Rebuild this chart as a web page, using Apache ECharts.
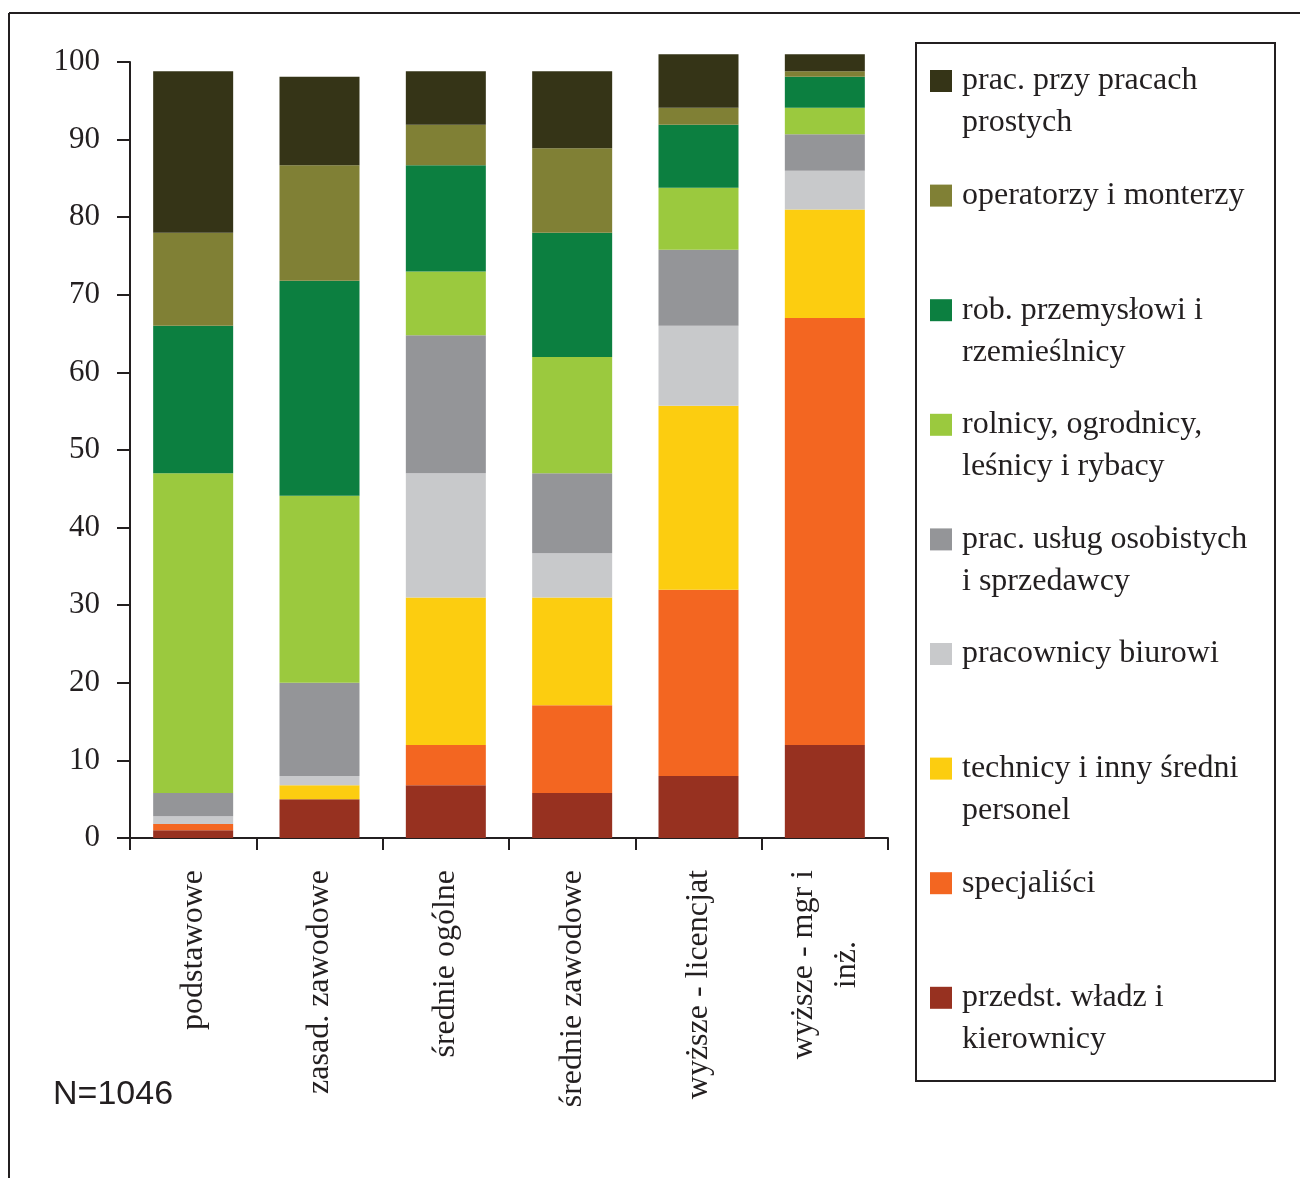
<!DOCTYPE html>
<html>
<head>
<meta charset="utf-8">
<script src="https://cdn.jsdelivr.net/npm/echarts@6/dist/echarts.min.js"></script>
<style>
  html, body { margin: 0; padding: 0; background: #ffffff; }
  #chart { width: 1300px; height: 1178px; }
</style>
</head>
<body>
<div id="chart"></div>
<script>
// Education levels (x axis); a "\n" marks a wrapped label
const educationLevels = [
  'podstawowe',
  'zasad. zawodowe',
  'średnie ogólne',
  'średnie zawodowe',
  'wyższe - licencjat',
  'wyższe - mgr i\ninż.'
];

// Y axis ticks
const yTicks = [0, 10, 20, 30, 40, 50, 60, 70, 80, 90, 100];

// Occupation groups, from the bottom of each stack upwards (legend lines)
const occupationLabels = [
  ['przedst. władz i', 'kierownicy'],
  ['specjaliści'],
  ['technicy i inny średni', 'personel'],
  ['pracownicy biurowi'],
  ['prac. usług osobistych', 'i sprzedawcy'],
  ['rolnicy, ogrodnicy,', 'leśnicy i rybacy'],
  ['rob. przemysłowi i', 'rzemieślnicy'],
  ['operatorzy i monterzy'],
  ['prac. przy pracach', 'prostych']
];

// Shares (%) per education level, one array per occupation group
const kierownicy   = [1.0, 5.0, 6.8, 5.8, 8.0, 12.0];
const specjalisci  = [0.8, 0.0, 5.2, 11.3, 24.0, 55.0];
const technicy     = [0.0, 1.8, 19.0, 13.9, 23.7, 14.0];
const biurowi      = [1.0, 1.2, 16.0, 5.7, 10.3, 5.0];
const uslugi       = [3.0, 12.0, 17.8, 10.3, 9.8, 4.7];
const rolnicy      = [41.2, 24.1, 8.2, 15.0, 8.0, 3.4];
const robotnicy    = [19.0, 27.7, 13.7, 16.0, 8.1, 4.0];
const operatorzy   = [12.0, 14.9, 5.2, 10.9, 2.2, 0.7];
const proste       = [20.8, 11.4, 6.9, 9.9, 6.9, 2.2];

const sampleNote = 'N=1046';

const seriesValues = [kierownicy, specjalisci, technicy, biurowi, uslugi, rolnicy, robotnicy, operatorzy, proste];
const seriesColors = ['#973120', '#f36621', '#fccd10', '#c8c9cb', '#949598', '#9bc93e', '#0c7f40', '#808035', '#353417'];

const INK = '#231f20';
const SERIF = '"Liberation Serif", "Times New Roman", serif';

const seriesNames = occupationLabels.map(l => l.join(' '));
const labelByName = {};
occupationLabels.forEach((l, i) => { labelByName[seriesNames[i]] = l; });

const chart = echarts.init(document.getElementById('chart'), null, { renderer: 'canvas' });

const option = {
  backgroundColor: '#ffffff',
  animation: false,
  grid: { left: 130, right: 412, top: 62, bottom: 340, containLabel: false },
  xAxis: {
    type: 'category',
    data: educationLevels,
    boundaryGap: true,
    axisLine: { show: true, lineStyle: { color: INK, width: 2 } },
    axisTick: { show: true, alignWithLabel: false, length: 12, lineStyle: { color: INK, width: 2 } },
    axisLabel: {
      interval: 0,
      rotate: 90,
      margin: 32,
      formatter: function (v) {
        const parts = v.split('\n');
        return parts.map((p, i) => (i === 0 ? '{a|' + p + '}' : '{b|' + p + '}')).join('\n');
      },
      rich: {
        a: { fontFamily: SERIF, fontSize: 32, lineHeight: 43, color: INK },
        b: { fontFamily: SERIF, fontSize: 32, lineHeight: 43, color: INK, align: 'center' }
      }
    },
    splitLine: { show: false }
  },
  yAxis: {
    type: 'value',
    min: yTicks[0],
    max: yTicks[yTicks.length - 1],
    interval: yTicks[1] - yTicks[0],
    axisLine: { show: true, lineStyle: { color: INK, width: 2 } },
    axisTick: { show: true, inside: false, length: 13, lineStyle: { color: INK, width: 2 } },
    axisLabel: { margin: 30, fontFamily: SERIF, fontSize: 31, color: INK },
    splitLine: { show: false }
  },
  legend: {
    orient: 'vertical',
    left: 930,
    top: 18,
    padding: 0,
    itemGap: -11.4,
    itemWidth: 22,
    itemHeight: 22,
    icon: 'rect',
    selectedMode: false,
    data: seriesNames.slice().reverse(),
    formatter: function (name) {
      const l = labelByName[name];
      return '\n' + l[0] + '\n' + (l[1] || '');
    },
    textStyle: { fontFamily: SERIF, fontSize: 32, lineHeight: 42, color: INK, padding: [0, 0, 0, 5] }
  },
  series: seriesNames.map((name, i) => ({
    name: name,
    type: 'bar',
    stack: 'total',
    barWidth: 80,
    clip: false,
    itemStyle: { color: seriesColors[i] },
    emphasis: { disabled: true },
    data: seriesValues[i]
  })),
  graphic: [
    // page frame
    { type: 'line', shape: { x1: 9, y1: 13, x2: 1300, y2: 13 }, style: { stroke: INK, lineWidth: 2 } },
    { type: 'line', shape: { x1: 9, y1: 13, x2: 9, y2: 1178 }, style: { stroke: INK, lineWidth: 2 } },
    // legend frame
    { type: 'rect', shape: { x: 916, y: 43, width: 359, height: 1038 }, style: { fill: 'none', stroke: INK, lineWidth: 2 } },
    {
      type: 'text', x: 53, y: 1095,
      style: { text: sampleNote, fontFamily: '"Liberation Sans", Arial, sans-serif', fontSize: 34, fill: INK, verticalAlign: 'middle', align: 'left' }
    }
  ]
};

chart.setOption(option);
</script>
</body>
</html>
